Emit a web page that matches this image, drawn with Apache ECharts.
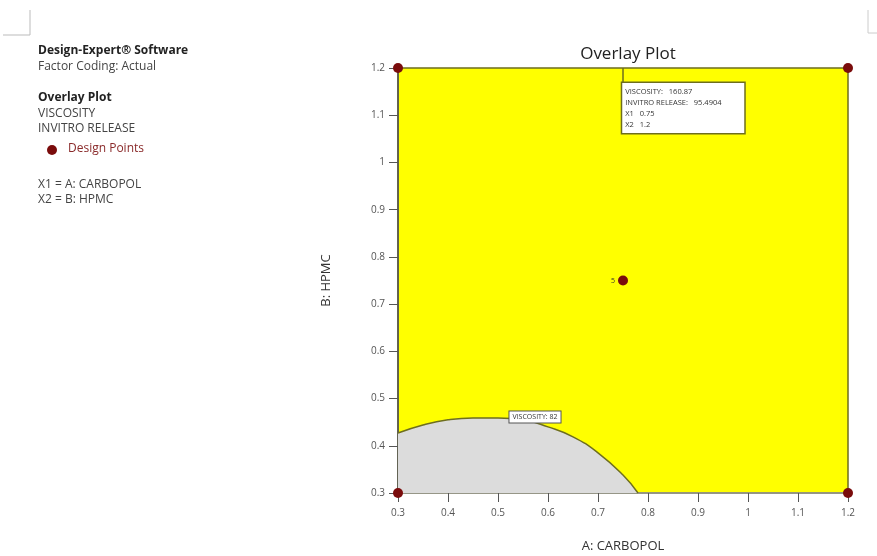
<!DOCTYPE html>
<html><head><meta charset="utf-8">
<script src="https://cdn.jsdelivr.net/npm/echarts@6/dist/echarts.min.js"></script>
<style>html,body{margin:0;padding:0;background:#fff}#c{width:877px;height:556px}</style>
</head><body><div id="c"></div>
<script>
const xTicks = [0.3,0.4,0.5,0.6,0.7,0.8,0.9,1,1.1,1.2];
const yTicks = [0.3,0.4,0.5,0.6,0.7,0.8,0.9,1,1.1,1.2];
const contourX = [0.3,0.35,0.4,0.45,0.5,0.55,0.6,0.65,0.7,0.75,0.78];
const contourY = [0.427,0.444,0.455,0.459,0.459,0.455,0.44,0.419,0.385,0.338,0.3];
const designPoints = [[0.3,0.3],[0.3,1.2],[1.2,0.3],[1.2,1.2],[0.75,0.75]];
const designLabels = ['','','','','5'];
const flagPoint = [0.75,1.2];
const flagText = ['VISCOSITY:   160.87','INVITRO RELEASE:   95.4904','X1   0.75','X2   1.2'];
const contourLabelPoint = [0.574,0.461];
const contourLabel = 'VISCOSITY: 82';

const FONT = '"Open Sans","Noto Sans",sans-serif';
const chart = echarts.init(document.getElementById('c'));
const fmt = v => (Math.round(v*10)/10).toString();
chart.setOption({
  animation:false,
  textStyle:{fontFamily:FONT},
  title:{text:'Overlay Plot',left:623,top:41,textAlign:'center',
    textStyle:{fontFamily:FONT,fontSize:17,fontWeight:'normal',color:'#222'}},
  grid:{left:398,right:29,top:68,bottom:63,containLabel:false,outerBoundsMode:'none',
    show:true,backgroundColor:'#ffff00',borderColor:'#6e6e1e',borderWidth:1.5},
  xAxis:{type:'value',min:0.3,max:1.2,interval:0.1,
    name:'A: CARBOPOL',nameLocation:'middle',nameGap:47,
    nameTextStyle:{fontFamily:FONT,fontSize:13,color:'#333'},
    axisLine:{lineStyle:{color:'#999',width:1.5}},
    axisTick:{length:9,lineStyle:{color:'#555'}},
    axisLabel:{formatter:fmt,color:'#555',fontSize:10,margin:15},
    splitLine:{show:false}},
  yAxis:{type:'value',min:0.3,max:1.2,interval:0.1,
    name:'B: HPMC',nameLocation:'middle',nameGap:65,
    nameTextStyle:{fontFamily:FONT,fontSize:13,color:'#333'},
    axisLine:{lineStyle:{color:'#555',width:1.5}},
    axisTick:{length:9,lineStyle:{color:'#555'}},
    axisLabel:{formatter:fmt,color:'#555',fontSize:10,margin:13},
    splitLine:{show:false}},
  series:[
    {type:'line',data:contourX.map((x,i)=>[x,contourY[i]]),smooth:true,symbol:'none',
     lineStyle:{color:'#6e6e1e',width:1.5},areaStyle:{color:'#dcdcdc',opacity:1,origin:'start'},z:2},
    {type:'scatter',data:[contourLabelPoint],symbolSize:0,z:5,itemStyle:{opacity:1},
     label:{show:true,formatter:contourLabel,position:'inside',fontSize:7,color:'#333',
       backgroundColor:'#fff',borderColor:'#555',borderWidth:1,padding:[2,3]}},
    {type:'scatter',data:[flagPoint],symbol:'rect',symbolSize:[1.5,16],symbolOffset:[0,8],
     itemStyle:{color:'#6e6e1e',opacity:1},z:4,
     label:{show:true,position:[0,15],formatter:flagText.join('\n'),fontSize:7.5,lineHeight:11,color:'#333',
       backgroundColor:'#fff',borderColor:'#6e6e1e',borderWidth:1.5,padding:[3,3,3,3],width:116,align:'left'}},
    {type:'scatter',data:designPoints,symbolSize:10,itemStyle:{color:'#7a0c0c',opacity:1},z:6,
     label:{show:true,position:'left',distance:3,fontSize:7,color:'#333',
       formatter:p=>designLabels[p.dataIndex]}}
  ],
  graphic:[
    {type:'polyline',shape:{points:[[30,10],[30,35],[3,35]]},style:{stroke:'#bbb',lineWidth:1,fill:null}},
    {type:'polyline',shape:{points:[[868,10],[868,33],[877,33]]},style:{stroke:'#ccc',lineWidth:1,fill:null}},
    {type:'text',left:38,top:45,style:{text:'Design-Expert® Software',font:'bold 12px '+FONT,fill:'#222'}},
    {type:'text',left:38,top:61,style:{text:'Factor Coding: Actual',font:'12px '+FONT,fill:'#444'}},
    {type:'text',left:38,top:92,style:{text:'Overlay Plot',font:'bold 12px '+FONT,fill:'#222'}},
    {type:'text',left:38,top:108,style:{text:'VISCOSITY',font:'12px '+FONT,fill:'#444'}},
    {type:'text',left:38,top:123,style:{text:'INVITRO RELEASE',font:'12px '+FONT,fill:'#444'}},
    {type:'circle',shape:{cx:52,cy:150,r:5},style:{fill:'#7a0c0c'}},
    {type:'text',left:68,top:143,style:{text:'Design Points',font:'12px '+FONT,fill:'#8a2a2a'}},
    {type:'text',left:38,top:179,style:{text:'X1 = A: CARBOPOL',font:'12px '+FONT,fill:'#444'}},
    {type:'text',left:38,top:194,style:{text:'X2 = B: HPMC',font:'12px '+FONT,fill:'#444'}}
  ]
});
</script></body></html>
